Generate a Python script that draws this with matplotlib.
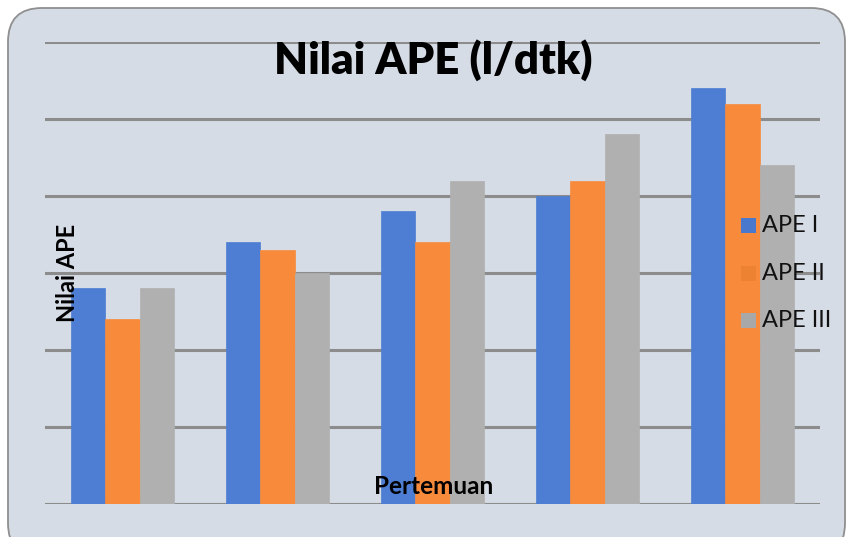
import matplotlib
matplotlib.use("Agg")
import matplotlib.pyplot as plt
from matplotlib.patches import FancyBboxPatch
import numpy as np

categories = ["1", "2", "3", "4", "5"]
series_names = ["APE I", "APE II", "APE III"]
ape1 = [2.8, 3.4, 3.8, 4.0, 5.4]
ape2 = [2.4, 3.3, 3.4, 4.2, 5.2]
ape3 = [2.8, 3.0, 4.2, 4.8, 4.4]
values = [ape1, ape2, ape3]
colors = ["#4D7ED3", "#F88A3C", "#B0B0B0"]
legend_colors = ["#4A78CC", "#EE8233", "#A8A8A8"]

W, H = 846, 537
fig = plt.figure(figsize=(W / 100, H / 100), dpi=100)
fig.patch.set_facecolor("white")

bg = "#D6DCE5"
box = FancyBboxPatch((8 / W, -20 / H), (846 - 9) / W, (537 - 8 + 20) / H,
                     boxstyle="round,pad=0,rounding_size=0.04",
                     transform=fig.transFigure, facecolor=bg,
                     edgecolor="#8F8F8F", linewidth=1.3, zorder=0,
                     mutation_aspect=W / H)
fig.patches.append(box)

ax = fig.add_axes([45 / W, (H - 504) / H, 775 / W, (504 - 42) / H])
ax.set_zorder(2)
ax.set_facecolor("none")
x = np.arange(len(categories))
bw = 0.223
for i, (vals, c) in enumerate(zip(values, colors)):
    ax.bar(x + (i - 1) * bw, vals, width=bw, color=c, zorder=3,
           edgecolor=c, linewidth=0.5)

ax.set_xlim(-0.5, 4.5)
ax.set_ylim(0, 6)
ax.set_yticks(np.arange(0, 7, 1))
ax.yaxis.grid(True, color="#8C8C8C", linewidth=2.2, zorder=1)
ax.set_axisbelow(True)
ax.tick_params(left=False, bottom=False, labelleft=False, labelbottom=False)
for s in ax.spines.values():
    s.set_visible(False)

fam = "Lato"
fig.text(433 / W, 1 - 60 / H, "Nilai APE (l/dtk)", ha="center", va="center",
         fontsize=31.5, fontweight="heavy", family=fam, zorder=5)
fig.text(67 / W, 1 - 273 / H, "Nilai APE", ha="center", va="center",
         rotation=90, fontsize=17, fontweight="bold", family=fam, zorder=5)
fig.text(434 / W, 1 - 486 / H, "Pertemuan", ha="center", va="center",
         fontsize=17.5, fontweight="bold", family=fam, zorder=5)

for i, (name, c) in enumerate(zip(series_names, legend_colors)):
    yy = 1 - (225.5 + i * 47.5) / H
    fig.patches.append(plt.Rectangle((741 / W, yy - 7.5 / H), 15 / W, 15 / H,
                                     transform=fig.transFigure, facecolor=c,
                                     edgecolor="none", zorder=6))
    fig.text(762 / W, yy, name, ha="left", va="center", fontsize=17,
             family=fam, color="#111111", zorder=6)

fig.savefig("out.png", dpi=100, facecolor="white")
